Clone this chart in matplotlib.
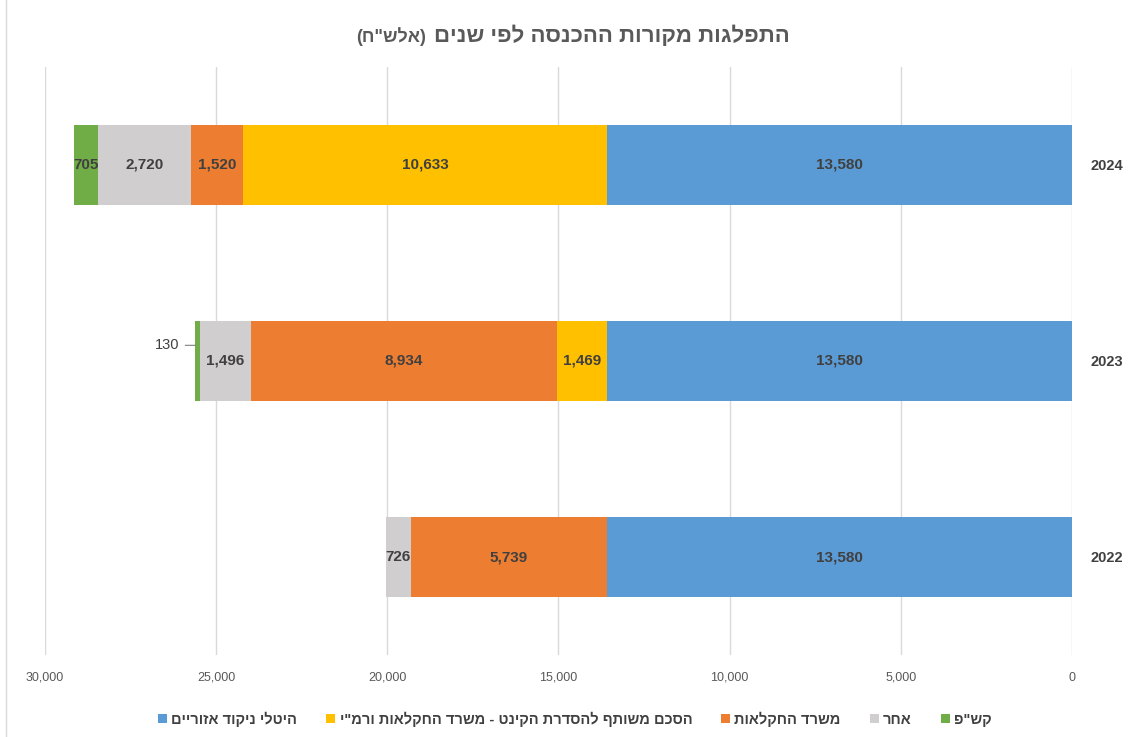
import matplotlib.pyplot as plt
from matplotlib.lines import Line2D

# values in thousands of NIS (אלש"ח)
years = ['2022', '2023', '2024']
regional = [13580, 13580, 13580]      # היטלי ניקוד אזוריים
agreement = [0, 1469, 10633]          # הסכם משותף להסדרת הקינט
ministry = [5739, 8934, 1520]         # משרד החקלאות
other = [726, 1496, 2720]             # אחר
kashap = [0, 130, 705]                # קש"פ

series_names = ['היטלי ניקוד אזוריים',
                'הסכם משותף להסדרת הקינט - משרד החקלאות ורמ"י',
                'משרד החקלאות',
                'אחר',
                'קש"פ']
colors = ['#5B9BD5', '#FFC000', '#ED7D31', '#D0CECE', '#70AD47']
xticks = [0, 5000, 10000, 15000, 20000, 25000, 30000]
title = 'התפלגות מקורות ההכנסה לפי שנים'
title_unit = '(אלש"ח)'


def heb(s):
    # matplotlib has no bidi support: flip to visual order
    return s[::-1].translate(str.maketrans('()', ')('))


plt.rcParams['font.family'] = ['Liberation Sans', 'DejaVu Sans']

fig = plt.figure(figsize=(11.3, 7.37), dpi=100)
ax = fig.add_axes([45 / 1130, 1 - 655 / 737, (1072 - 45) / 1130, (655 - 67) / 737])

ypos = list(range(len(years)))
data = [regional, agreement, ministry, other, kashap]
left = [0, 0, 0]
handles = []
for vals, name, col in zip(data, series_names, colors):
    bars = ax.barh(ypos, vals, left=left, height=0.41, color=col, label=heb(name))
    handles.append(bars)
    labels = []
    for i, v in enumerate(vals):
        if v == 0 or v == 130:
            labels.append('')
        else:
            labels.append(f'{v:,}')
    ax.bar_label(bars, labels=labels, label_type='center', fontsize=11,
                 fontweight='bold', color='#404040')
    left = [a + b for a, b in zip(left, vals)]

# small slice in 2023 gets an outside label with a leader line
i = years.index('2023')
x_end = left[i] - kashap[i] / 2
ax.annotate(f'{kashap[i]:,}', xy=(x_end + 60, i + 0.08), xytext=(x_end + 520, i + 0.08),
            ha='right', va='center', fontsize=10.5, color='#404040',
            arrowprops=dict(arrowstyle='-', color='#7F7F7F', lw=0.8,
                            shrinkA=2, shrinkB=0))

ax.set_xlim(30000, 0)
ax.set_yticks(ypos)
ax.set_yticklabels(years)
ax.yaxis.tick_right()
ax.set_ylim(-0.5, 2.5)
ax.set_xticks(xticks)
ax.set_xticklabels([f'{t:,}' for t in xticks])
ax.tick_params(axis='x', length=0, pad=12, labelsize=9, labelcolor='#595959')
ax.tick_params(axis='y', length=0, pad=13, labelsize=10.5, labelcolor='#404040')
for lab in ax.get_yticklabels():
    lab.set_fontweight('bold')
for lab in ax.get_xticklabels():
    lab.set_family(['Liberation Sans Narrow', 'Liberation Sans'])
ax.grid(axis='x', color='#D9D9D9', lw=1)
ax.set_axisbelow(True)
for sp in ax.spines.values():
    sp.set_visible(False)

fig.text(790 / 1130, 1 - 36 / 737, heb(title), ha='right', va='center',
         fontsize=16, fontweight='bold', color='#595959')
fig.text(426 / 1130, 1 - 37 / 737, heb(title_unit), ha='right', va='center',
         fontsize=13, fontweight='bold', color='#595959')

fig.legend(handles=handles, loc='center', bbox_to_anchor=(575 / 1130, 1 - 719 / 737),
           ncol=5, frameon=False, labelcolor='#404040',
           handlelength=0.6, handleheight=0.6, handletextpad=0.3, columnspacing=2.0,
           prop={'weight': 'bold', 'size': 10.5})

fig.add_artist(Line2D([6 / 1130, 6 / 1130], [0, 1], color='#D9D9D9', lw=1))

fig.savefig('out.png', dpi=100, facecolor='white')
